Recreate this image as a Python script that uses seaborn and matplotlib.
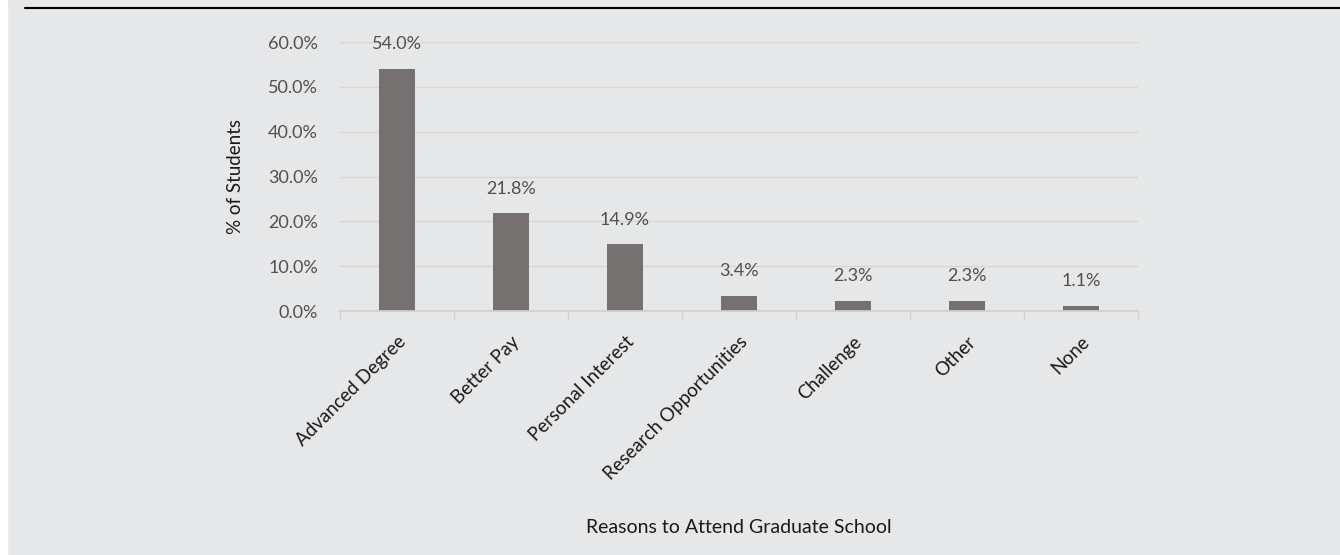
import matplotlib
matplotlib.use("Agg")
import matplotlib.pyplot as plt
import seaborn as sns
import pandas as pd
from matplotlib.patches import Rectangle
from matplotlib.lines import Line2D
from matplotlib.ticker import FuncFormatter, FixedLocator

categories = ["Advanced Degree", "Better Pay", "Personal Interest", "Research Opportunities",
              "Challenge", "Other", "None"]
values = [54.0, 21.8, 14.9, 3.4, 2.3, 2.3, 1.1]
yticks = [0, 10, 20, 30, 40, 50, 60]

sns.set_theme(style="white")
plt.rcParams['font.family'] = ['Lato', 'DejaVu Sans']

BG = "#e6e7e8"
TXT = "#505050"
BAR = "#767171"
FS = 13

fig = plt.figure(figsize=(13.4, 5.55), dpi=100)
fig.patch.set_facecolor(BG)
fig.patches.append(Rectangle((0, 0), 7/1340, 1, transform=fig.transFigure, color="white", zorder=0))
fig.lines.append(Line2D([25/1340, 1], [1-8/555, 1-8/555], transform=fig.transFigure, color="black", lw=1.5))

ax = fig.add_axes([340/1340, 1-311/555, (1138-340)/1340, (311-42)/555])
ax.set_facecolor(BG)

df = pd.DataFrame({"cat": categories, "val": values})
sns.barplot(data=df, x="cat", y="val", color=BAR, width=0.32, saturation=1, linewidth=0, ax=ax)

ax.set_ylim(0, 60)
ax.set_xlim(-0.5, len(categories)-0.5)
ax.set_yticks(yticks)
ax.yaxis.set_major_formatter(FuncFormatter(lambda v, p: f"{v:.1f}%"))
ax.grid(axis="y", color="#d6d6d6", lw=1)
ax.set_axisbelow(True)
for s in ["top", "right", "left"]:
    ax.spines[s].set_visible(False)
ax.spines["bottom"].set_color("#d0d0d0")
ax.tick_params(axis="y", length=0, labelsize=FS, labelcolor=TXT, pad=16)

ax.set_xticks(range(len(categories)))
ax.set_xticklabels(categories, rotation=45, ha="right", rotation_mode="anchor", fontsize=13.5, color="#1a1a1a")
ax.tick_params(axis="x", which="major", length=0, pad=16, bottom=True)
ax.xaxis.set_minor_locator(FixedLocator([i - 0.5 for i in range(len(categories)+1)]))
ax.tick_params(axis="x", which="minor", length=6, width=1, color="#d0d0d0", direction="out", bottom=True)

for i, v in enumerate(values):
    ax.annotate(f"{v:.1f}%", (i, v), xytext=(0, 12), textcoords="offset points",
                ha="center", va="bottom", fontsize=FS, color=TXT)

ax.set_xlabel("Reasons to Attend Graduate School", fontsize=14, color="#1a1a1a")
ax.xaxis.set_label_coords(0.5, -(519-311)/(311-42))
ax.set_ylabel("% of Students", fontsize=13.5, color="#1a1a1a")
ax.yaxis.set_label_coords(-(340-244)/(1138-340), 0.5)

fig.savefig("out.png", dpi=100, facecolor=BG)
